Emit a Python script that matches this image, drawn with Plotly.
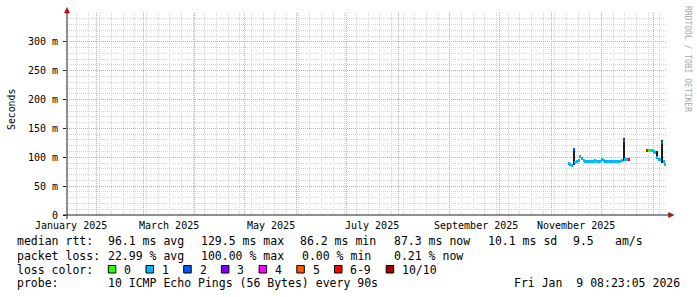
import plotly.graph_objects as go

# ---------------- data ----------------
X_START = "2025-01-14 08:23:05"
X_END = "2026-01-09 08:23:05"

days = [
    "2025-11-11", "2025-11-12", "2025-11-13", "2025-11-14", "2025-11-15", "2025-11-16",
    "2025-11-17", "2025-11-18", "2025-11-19", "2025-11-20", "2025-11-21", "2025-11-22",
    "2025-11-23", "2025-11-24", "2025-11-25", "2025-11-26", "2025-11-27", "2025-11-28",
    "2025-11-29", "2025-11-30", "2025-12-01", "2025-12-02", "2025-12-03", "2025-12-04",
    "2025-12-05", "2025-12-06", "2025-12-07", "2025-12-08", "2025-12-09", "2025-12-10",
    "2025-12-11", "2025-12-12", "2025-12-13", "2025-12-14", "2025-12-15", "2025-12-16",
    "2025-12-17",
    "2025-12-28", "2025-12-29", "2025-12-30", "2025-12-31", "2026-01-01", "2026-01-02",
    "2026-01-03", "2026-01-04", "2026-01-05", "2026-01-06", "2026-01-07", "2026-01-08",
]
median_ms = [
    90, 88, 86.2, 113, 91, 92, 95, 101, 98, 94, 92, 93,
    92, 93, 92, 93, 94, 92, 93, 92, 96, 94, 92, 93,
    92, 93, 92, 92, 93, 92, 92, 93, 95, 129.5, 96, 96,
    96,
    111, 112, 112, 111, 110, 109, 100, 97, 96, 125, 93, 88,
]
loss_level = [
    1, 1, 1, 2, 1, 1, 1, 1, 1, 1, 1, 1,
    1, 1, 1, 1, 1, 1, 1, 1, 1, 1, 1, 1,
    1, 1, 1, 1, 1, 1, 1, 1, 1, 2, 1, 1,
    6,
    6, 0, 0, 1, 1, 1, 1, 1, 1, 2, 1, 1,
]

smoke_days = ["2025-11-14", "2025-12-14", "2026-01-03", "2026-01-06"]
smoke_lo_ms = [86, 93, 97, 90]
smoke_hi_ms = [115, 134, 111, 130]

loss_labels = ["0", "1", "2", "3", "4", "5", "6-9", "10/10"]
loss_colors = ["#26ff00", "#00b8ff", "#0059ff", "#7e00ff", "#ff00ff", "#ff5500", "#ff0000", "#a10000"]

y_tick_vals = [0, 0.05, 0.10, 0.15, 0.20, 0.25, 0.30]
y_tick_text = ["0", "50 m", "100 m", "150 m", "200 m", "250 m", "300 m"]

month_label_dates = ["2025-01-16 12:00", "2025-03-16 12:00", "2025-05-16 12:00",
                     "2025-07-16 12:00", "2025-09-16 12:00", "2025-11-16 00:00"]
month_labels = ["January 2025", "March 2025", "May 2025", "July 2025",
                "September 2025", "November 2025"]

rtt_stats = [96.1, 129.5, 86.2, 87.3, 10.1]
rtt_am_s = 9.5
loss_stats = [22.99, 100.00, 0.00, 0.21]
probe_text = "10 ICMP Echo Pings (56 Bytes) every 90s"
stamp_text = "Fri Jan  9 08:23:05 2026"

# ---------------- style ----------------
MONO = "DejaVu Sans Mono"
GRID = "#d4d4d4"
MGRID = "#e89c9c"
AXIS = "#1e1e1e"
ARROW = "#9a1a1a"
L, R, T, B = 67, 667, 13, 215
W, H = 697, 297
HALF_BAND = 0.0026   # half thickness of median band (s)
DAY_MS = 86400000


def px_x(px):
    return (px - L) / (R - L)


def px_y(py):
    return (B - py) / (B - T)


def nb(s):
    return s.replace(" ", "\u00a0")


fig = go.Figure()

# smoke
fig.add_trace(go.Bar(
    x=[d + " 12:00" for d in smoke_days],
    y=[(h - l) / 1000 for l, h in zip(smoke_lo_ms, smoke_hi_ms)],
    base=[l / 1000 for l in smoke_lo_ms],
    width=DAY_MS * 1.1,
    marker=dict(color="#1c1c1c", line=dict(width=0)),
    hoverinfo="skip",
))

# median band coloured by loss
fig.add_trace(go.Bar(
    x=[d + " 12:00" for d in days],
    y=[2 * HALF_BAND] * len(days),
    base=[m / 1000 - HALF_BAND for m in median_ms],
    width=DAY_MS * 1.05,
    marker=dict(color=[loss_colors[i] for i in loss_level], line=dict(width=0)),
    hoverinfo="skip",
))

fig.update_layout(
    width=W, height=H,
    margin=dict(l=L, r=W - R, t=T, b=H - B, pad=0),
    paper_bgcolor="white", plot_bgcolor="white",
    showlegend=False, barmode="overlay", bargap=0,
    font=dict(family=MONO, size=10, color="black"),
    xaxis=dict(
        type="date", range=[X_START, X_END],
        showgrid=True, gridcolor=MGRID, gridwidth=1, griddash="1px,1px",
        dtick="M1", tick0="2025-01-01",
        showticklabels=False, ticks="", showline=False, zeroline=False,
        minor=dict(dtick=7 * DAY_MS, tick0="2025-01-13", showgrid=True,
                   gridcolor=GRID, gridwidth=1, griddash="1px,1px"),
        fixedrange=True,
    ),
    yaxis=dict(
        range=[0, 0.35], tickmode="array", tickvals=y_tick_vals, ticktext=y_tick_text,
        showgrid=True, gridcolor=MGRID, gridwidth=1, griddash="1px,1px",
        zeroline=False, showline=False,
        ticks="outside", ticklen=3, tickcolor=AXIS, tickwidth=1,
        ticklabelstandoff=3,
        tickfont=dict(family=MONO, size=10, color="black"),
        minor=dict(dtick=0.01, showgrid=True, gridcolor=GRID, gridwidth=1, griddash="1px,1px"),
        fixedrange=True,
    ),
)

shapes = []
# axes
shapes.append(dict(type="line", xref="paper", yref="paper",
                   x0=px_x(63), x1=px_x(669), y0=px_y(B), y1=px_y(B),
                   line=dict(color=AXIS, width=1)))
shapes.append(dict(type="line", xref="paper", yref="paper",
                   x0=px_x(L), x1=px_x(L), y0=px_y(219), y1=px_y(12),
                   line=dict(color=AXIS, width=1)))
# arrows
shapes.append(dict(type="path", xref="paper", yref="paper",
                   path=f"M {px_x(668.5)} {px_y(212.3)} L {px_x(674)} {px_y(215)} L {px_x(668.5)} {px_y(217.7)} Z",
                   fillcolor=ARROW, line=dict(color=ARROW, width=0.5)))
shapes.append(dict(type="path", xref="paper", yref="paper",
                   path=f"M {px_x(64.3)} {px_y(13)} L {px_x(67)} {px_y(7.5)} L {px_x(69.7)} {px_y(13)} Z",
                   fillcolor=ARROW, line=dict(color=ARROW, width=0.5)))

annotations = []


def text_at(txt, xpx, ypx, size=11.5, color="black", xanchor="left", angle=0, font=MONO):
    annotations.append(dict(
        text=nb(txt), xref="paper", yref="paper", x=px_x(xpx), y=px_y(ypx),
        xanchor=xanchor, yanchor="middle", showarrow=False, textangle=angle,
        borderpad=0, font=dict(family=font, size=size, color=color)))


# month labels
for d, lab in zip(month_label_dates, month_labels):
    annotations.append(dict(text=lab, xref="x", yref="paper", x=d, y=px_y(225),
                            xanchor="center", yanchor="middle", showarrow=False,
                            borderpad=0, font=dict(family=MONO, size=10, color="black")))

# y axis title and watermark
text_at("Seconds", 11, 110, size=9.8, xanchor="center", angle=-90)
text_at("RRDTOOL / TOBI OETIKER", 687, 59, size=8, color="#a8a8a8", xanchor="center", angle=90)

# legend rows
ROW = [241.5, 255.5, 269.5, 283]
text_at("median rtt:", 16, ROW[0])
rtt_x = [107, 200, 299, 393, 487]
rtt_suffix = ["ms avg", "ms max", "ms min", "ms now", "ms sd"]
for v, xpx, suf in zip(rtt_stats, rtt_x, rtt_suffix):
    text_at(f"{v:.1f} {suf}", xpx, ROW[0])
text_at(f"{rtt_am_s:.1f}", 572, ROW[0])
text_at("am/s", 614, ROW[0])

text_at("packet loss:", 16, ROW[1])
loss_x = [107, 200, 301, 393]
loss_suffix = ["% avg", "% max", "% min", "% now"]
for v, xpx, suf in zip(loss_stats, loss_x, loss_suffix):
    text_at(f"{v:.2f} {suf}", xpx, ROW[1])

text_at("loss color:", 16, ROW[2])
bx = 108.3
for lab, col in zip(loss_labels, loss_colors):
    shapes.append(dict(type="rect", xref="paper", yref="paper",
                       x0=px_x(bx), x1=px_x(bx + 7.5), y0=px_y(ROW[2] - 4), y1=px_y(ROW[2] + 3.5),
                       fillcolor=col, line=dict(color="black", width=1)))
    text_at(lab, bx + 15, ROW[2])
    bx = bx + 15 + 7 * len(lab) + 15.7

text_at("probe:", 16, ROW[3])
text_at(probe_text, 107, ROW[3])
text_at(stamp_text, 513, ROW[3])

fig.update_layout(shapes=shapes, annotations=annotations)
fig.write_html("out.html")
